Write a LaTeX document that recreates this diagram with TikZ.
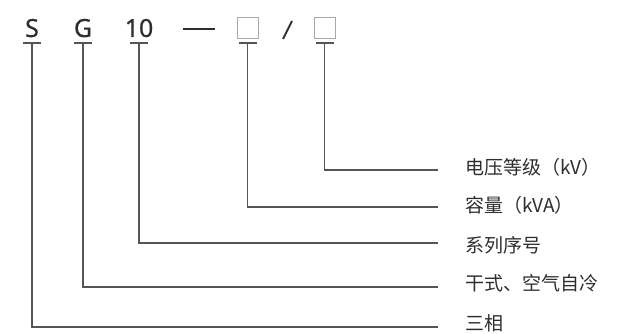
\documentclass[tikz,border=0pt]{standalone}
\usepackage{fontspec}
\setmainfont{Noto Sans}
\newfontfamily\codefont[FakeBold=0.4]{Noto Sans}
\newfontfamily\cjk{Noto Sans CJK SC}
\definecolor{txt}{HTML}{2E2E2E}
\definecolor{ln}{HTML}{555555}
\definecolor{bx}{HTML}{A8A8A8}
\begin{document}
\begin{tikzpicture}[x=1pt,y=-1pt,
  code/.style={font=\codefont\fontsize{25}{25}\selectfont, text=txt, anchor=base, inner sep=0pt},
  blank/.style={draw=bx, line width=1pt, minimum size=21pt, inner sep=0pt},
  lbl/.style={font=\cjk\fontsize{19}{19}\selectfont, text=txt, anchor=west, inner sep=0pt},
  conn/.style={draw=ln, line width=1.3pt},
  tick/.style={draw=ln, line width=1.3pt}]
\useasboundingbox (0,0) rectangle (621,334);
% top row
\node[code] (S) at (32,37) {S};
\node[code] (G) at (83,37) {G};
\node[code] (ten) at (139,37) {10};
\draw[draw=txt, line width=1.6pt] (183,29) coordinate (d1) -- (215,29) coordinate (d2);
\node[blank] (b1) at (248,28) {};
\draw[draw=txt, line width=1.8pt] (283,39) coordinate (s1) -- (292,21) coordinate (s2);
\node[blank] (b2) at (324.5,28) {};
% labels
\node[lbl] (l5) at (465,167) {电压等级（kV）};
\node[lbl] (l4) at (465,205) {容量（kVA）};
\node[lbl] (l3) at (465,245) {系列序号};
\node[lbl] (l2) at (465,283) {干式、空气自冷};
\node[lbl] (l1) at (465,323.5) {三相};
% line ends
\coordinate (e5) at (438,170);
\coordinate (e4) at (438,207);
\coordinate (e3) at (438,243);
\coordinate (e2) at (438,287);
\coordinate (e1) at (438,327);
% tick coordinates
\coordinate (tS) at (32,43);
\coordinate (tG) at (83,43);
\coordinate (tT) at (139,43);
\coordinate (tB1) at (247.5,43);
\coordinate (tB2) at (324.5,43);
\foreach \t in {tS,tG,tT,tB1,tB2}{\draw[tick] ([xshift=-9pt]\t) -- ([xshift=9pt]\t);}
% connectors
\draw[conn] (tB2) |- (e5);
\draw[conn] (tB1) |- (e4);
\draw[conn] (tT) |- (e3);
\draw[conn] (tG) |- (e2);
\draw[conn] (tS) |- (e1);
\end{tikzpicture}
\end{document}
